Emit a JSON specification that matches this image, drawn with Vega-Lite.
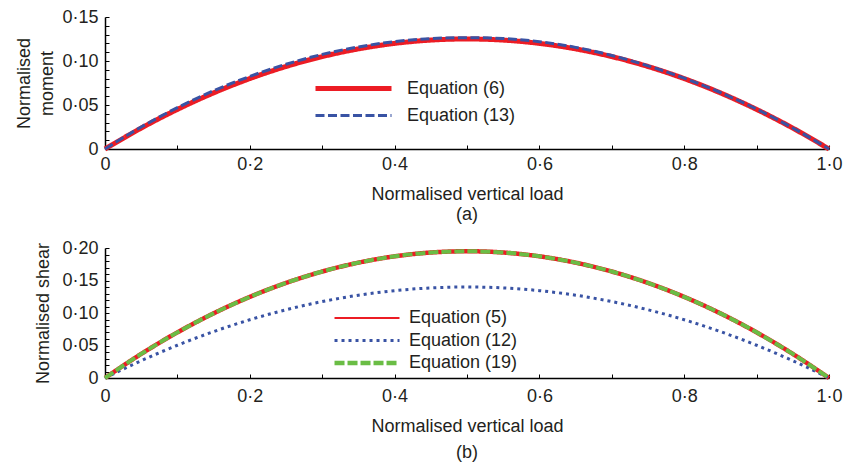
{
  "$schema": "https://vega.github.io/schema/vega-lite/v6.json",
  "background": "white",
  "padding": {"left": 15, "top": 8, "right": 0, "bottom": 0},
  "autosize": {"type": "pad"},
  "resolve": {
    "scale": {"color": "independent", "strokeDash": "independent", "strokeWidth": "independent"},
    "legend": {"color": "independent", "strokeDash": "independent", "strokeWidth": "independent"}
  },
  "config": {
    "font": "Liberation Sans",
    "view": {"stroke": null},
    "axis": {
      "labelFont": "Liberation Sans",
      "titleFont": "Liberation Sans",
      "labelFontSize": 18,
      "titleFontSize": 18,
      "titleFontWeight": "normal",
      "labelColor": "#231f20",
      "titleColor": "#231f20",
      "domainColor": "#000000",
      "domainWidth": 1.5,
      "tickColor": "#000000",
      "tickWidth": 1,
      "tickSize": -4,
      "labelFlush": false,
      "grid": false
    },
    "legend": {
      "orient": "none",
      "labelFont": "Liberation Sans",
      "labelFontSize": 18,
      "labelColor": "#231f20",
      "symbolType": "M-3,0H3",
      "padding": 0
    },
    "title": {"font": "Liberation Sans", "fontSize": 18, "fontWeight": "normal", "color": "#231f20", "orient": "bottom", "anchor": "middle"},
    "concat": {"spacing": 15},
    "line": {"interpolate": "monotone"}
  },
  "datasets": {
    "moment": [
      {"x": 0, "y": 0, "s": "Equation (6)"},
      {"x": 0.05, "y": 0.02375, "s": "Equation (6)"},
      {"x": 0.1, "y": 0.045, "s": "Equation (6)"},
      {"x": 0.15, "y": 0.06375, "s": "Equation (6)"},
      {"x": 0.2, "y": 0.08, "s": "Equation (6)"},
      {"x": 0.25, "y": 0.09375, "s": "Equation (6)"},
      {"x": 0.3, "y": 0.105, "s": "Equation (6)"},
      {"x": 0.35, "y": 0.11375, "s": "Equation (6)"},
      {"x": 0.4, "y": 0.12, "s": "Equation (6)"},
      {"x": 0.45, "y": 0.12375, "s": "Equation (6)"},
      {"x": 0.5, "y": 0.125, "s": "Equation (6)"},
      {"x": 0.55, "y": 0.12375, "s": "Equation (6)"},
      {"x": 0.6, "y": 0.12, "s": "Equation (6)"},
      {"x": 0.65, "y": 0.11375, "s": "Equation (6)"},
      {"x": 0.7, "y": 0.105, "s": "Equation (6)"},
      {"x": 0.75, "y": 0.09375, "s": "Equation (6)"},
      {"x": 0.8, "y": 0.08, "s": "Equation (6)"},
      {"x": 0.85, "y": 0.06375, "s": "Equation (6)"},
      {"x": 0.9, "y": 0.045, "s": "Equation (6)"},
      {"x": 0.95, "y": 0.02375, "s": "Equation (6)"},
      {"x": 1.0, "y": 0, "s": "Equation (6)"},
      {"x": 0, "y": 0, "s": "Equation (13)"},
      {"x": 0.05, "y": 0.025, "s": "Equation (13)"},
      {"x": 0.1, "y": 0.047, "s": "Equation (13)"},
      {"x": 0.15, "y": 0.0662, "s": "Equation (13)"},
      {"x": 0.2, "y": 0.0825, "s": "Equation (13)"},
      {"x": 0.25, "y": 0.0963, "s": "Equation (13)"},
      {"x": 0.3, "y": 0.1075, "s": "Equation (13)"},
      {"x": 0.35, "y": 0.116, "s": "Equation (13)"},
      {"x": 0.4, "y": 0.122, "s": "Equation (13)"},
      {"x": 0.45, "y": 0.1255, "s": "Equation (13)"},
      {"x": 0.5, "y": 0.1265, "s": "Equation (13)"},
      {"x": 0.55, "y": 0.1255, "s": "Equation (13)"},
      {"x": 0.6, "y": 0.122, "s": "Equation (13)"},
      {"x": 0.65, "y": 0.1155, "s": "Equation (13)"},
      {"x": 0.7, "y": 0.1063, "s": "Equation (13)"},
      {"x": 0.75, "y": 0.0945, "s": "Equation (13)"},
      {"x": 0.8, "y": 0.0805, "s": "Equation (13)"},
      {"x": 0.85, "y": 0.0642, "s": "Equation (13)"},
      {"x": 0.9, "y": 0.0453, "s": "Equation (13)"},
      {"x": 0.95, "y": 0.0239, "s": "Equation (13)"},
      {"x": 1.0, "y": 0, "s": "Equation (13)"}
    ],
    "shear": [
      {"x": 0, "y": 0, "s": "Equation (5)"},
      {"x": 0.05, "y": 0.03705, "s": "Equation (5)"},
      {"x": 0.1, "y": 0.0702, "s": "Equation (5)"},
      {"x": 0.15, "y": 0.09945, "s": "Equation (5)"},
      {"x": 0.2, "y": 0.1248, "s": "Equation (5)"},
      {"x": 0.25, "y": 0.14625, "s": "Equation (5)"},
      {"x": 0.3, "y": 0.1638, "s": "Equation (5)"},
      {"x": 0.35, "y": 0.17745, "s": "Equation (5)"},
      {"x": 0.4, "y": 0.1872, "s": "Equation (5)"},
      {"x": 0.45, "y": 0.19305, "s": "Equation (5)"},
      {"x": 0.5, "y": 0.195, "s": "Equation (5)"},
      {"x": 0.55, "y": 0.19305, "s": "Equation (5)"},
      {"x": 0.6, "y": 0.1872, "s": "Equation (5)"},
      {"x": 0.65, "y": 0.17745, "s": "Equation (5)"},
      {"x": 0.7, "y": 0.1638, "s": "Equation (5)"},
      {"x": 0.75, "y": 0.14625, "s": "Equation (5)"},
      {"x": 0.8, "y": 0.1248, "s": "Equation (5)"},
      {"x": 0.85, "y": 0.09945, "s": "Equation (5)"},
      {"x": 0.9, "y": 0.0702, "s": "Equation (5)"},
      {"x": 0.95, "y": 0.03705, "s": "Equation (5)"},
      {"x": 1.0, "y": 0, "s": "Equation (5)"},
      {"x": 0, "y": 0, "s": "Equation (12)"},
      {"x": 0.05, "y": 0.0266, "s": "Equation (12)"},
      {"x": 0.1, "y": 0.0504, "s": "Equation (12)"},
      {"x": 0.15, "y": 0.0714, "s": "Equation (12)"},
      {"x": 0.2, "y": 0.0896, "s": "Equation (12)"},
      {"x": 0.25, "y": 0.105, "s": "Equation (12)"},
      {"x": 0.3, "y": 0.1176, "s": "Equation (12)"},
      {"x": 0.35, "y": 0.1274, "s": "Equation (12)"},
      {"x": 0.4, "y": 0.1344, "s": "Equation (12)"},
      {"x": 0.45, "y": 0.1386, "s": "Equation (12)"},
      {"x": 0.5, "y": 0.14, "s": "Equation (12)"},
      {"x": 0.55, "y": 0.1386, "s": "Equation (12)"},
      {"x": 0.6, "y": 0.1344, "s": "Equation (12)"},
      {"x": 0.65, "y": 0.1274, "s": "Equation (12)"},
      {"x": 0.7, "y": 0.1176, "s": "Equation (12)"},
      {"x": 0.75, "y": 0.105, "s": "Equation (12)"},
      {"x": 0.8, "y": 0.0896, "s": "Equation (12)"},
      {"x": 0.85, "y": 0.0714, "s": "Equation (12)"},
      {"x": 0.9, "y": 0.0504, "s": "Equation (12)"},
      {"x": 0.95, "y": 0.0266, "s": "Equation (12)"},
      {"x": 1.0, "y": 0, "s": "Equation (12)"},
      {"x": 0, "y": 0, "s": "Equation (19)"},
      {"x": 0.05, "y": 0.03705, "s": "Equation (19)"},
      {"x": 0.1, "y": 0.0702, "s": "Equation (19)"},
      {"x": 0.15, "y": 0.09945, "s": "Equation (19)"},
      {"x": 0.2, "y": 0.1248, "s": "Equation (19)"},
      {"x": 0.25, "y": 0.14625, "s": "Equation (19)"},
      {"x": 0.3, "y": 0.1638, "s": "Equation (19)"},
      {"x": 0.35, "y": 0.17745, "s": "Equation (19)"},
      {"x": 0.4, "y": 0.1872, "s": "Equation (19)"},
      {"x": 0.45, "y": 0.19305, "s": "Equation (19)"},
      {"x": 0.5, "y": 0.195, "s": "Equation (19)"},
      {"x": 0.55, "y": 0.19305, "s": "Equation (19)"},
      {"x": 0.6, "y": 0.1872, "s": "Equation (19)"},
      {"x": 0.65, "y": 0.17745, "s": "Equation (19)"},
      {"x": 0.7, "y": 0.1638, "s": "Equation (19)"},
      {"x": 0.75, "y": 0.14625, "s": "Equation (19)"},
      {"x": 0.8, "y": 0.1248, "s": "Equation (19)"},
      {"x": 0.85, "y": 0.09945, "s": "Equation (19)"},
      {"x": 0.9, "y": 0.0702, "s": "Equation (19)"},
      {"x": 0.95, "y": 0.03705, "s": "Equation (19)"},
      {"x": 1.0, "y": 0, "s": "Equation (19)"}
    ]
  },
  "vconcat": [
    {
      "width": 724,
      "height": 132,
      "title": {"text": "(a)", "offset": 3},
      "data": {"name": "moment"},
      "mark": {"type": "line", "interpolate": "monotone"},
      "encoding": {
        "x": {
          "field": "x", "type": "quantitative",
          "scale": {"domain": [0, 1], "nice": false},
          "axis": {
            "title": "Normalised vertical load",
            "values": [0, 0.1, 0.2, 0.3, 0.4, 0.5, 0.6, 0.7, 0.8, 0.9, 1.0],
            "labelExpr": "round(datum.value*10)%2==1 ? '' : (datum.value==0 ? '0' : replace(format(datum.value,'.1f'),'.','·'))",
            "labelPadding": 10,
            "titlePadding": 12
          }
        },
        "y": {
          "field": "y", "type": "quantitative",
          "scale": {"domain": [0, 0.15], "nice": false},
          "axis": {
            "title": ["Normalised", "moment"],
            "titleLineHeight": 23,
            "values": [0, 0.01, 0.02, 0.03, 0.04, 0.05, 0.06, 0.07, 0.08, 0.09, 0.1, 0.11, 0.12, 0.13, 0.14, 0.15],
            "labelExpr": "round(datum.value*100)%5!=0 ? '' : (datum.value==0 ? '0' : replace(format(datum.value,'.2f'),'.','·'))",
            "labelPadding": 11,
            "titlePadding": 5
          }
        },
        "color": {
          "field": "s", "type": "nominal",
          "scale": {"domain": ["Equation (6)", "Equation (13)"], "range": ["#ec1c24", "#3953a4"]},
          "legend": {"title": null, "legendX": 233, "legendY": 56, "symbolSize": 642, "labelOffset": 38, "rowPadding": 2}
        },
        "strokeDash": {
          "field": "s", "type": "nominal",
          "scale": {"domain": ["Equation (6)", "Equation (13)"], "range": [[1, 0], [9, 3.5]]},
          "legend": {"title": null, "legendX": 233, "legendY": 56, "symbolSize": 642, "labelOffset": 38, "rowPadding": 2}
        },
        "strokeWidth": {
          "field": "s", "type": "nominal",
          "scale": {"domain": ["Equation (6)", "Equation (13)"], "range": [5, 3]},
          "legend": {"title": null, "legendX": 233, "legendY": 56, "symbolSize": 642, "labelOffset": 38, "rowPadding": 2}
        },
        "order": {"field": "x", "type": "quantitative"}
      }
    },
    {
      "width": 724,
      "height": 130,
      "title": {"text": "(b)", "offset": 9},
      "data": {"name": "shear"},
      "mark": {"type": "line", "interpolate": "monotone", "strokeWidth": {"expr": "datum.s == 'Equation (5)' ? 4.5 : datum.s == 'Equation (12)' ? 3 : 4"}},
      "encoding": {
        "x": {
          "field": "x", "type": "quantitative",
          "scale": {"domain": [0, 1], "nice": false},
          "axis": {
            "title": "Normalised vertical load",
            "values": [0, 0.1, 0.2, 0.3, 0.4, 0.5, 0.6, 0.7, 0.8, 0.9, 1.0],
            "labelExpr": "round(datum.value*10)%2==1 ? '' : (datum.value==0 ? '0' : replace(format(datum.value,'.1f'),'.','·'))",
            "labelPadding": 13,
            "titlePadding": 12
          }
        },
        "y": {
          "field": "y", "type": "quantitative",
          "scale": {"domain": [0, 0.2], "nice": false},
          "axis": {
            "title": "Normalised shear",
            "values": [0, 0.01, 0.02, 0.03, 0.04, 0.05, 0.06, 0.07, 0.08, 0.09, 0.1, 0.11, 0.12, 0.13, 0.14, 0.15, 0.16, 0.17, 0.18, 0.19, 0.2],
            "labelExpr": "round(datum.value*100)%5!=0 ? '' : (datum.value==0 ? '0' : replace(format(datum.value,'.2f'),'.','·'))",
            "labelPadding": 11,
            "titlePadding": 9
          }
        },
        "color": {
          "field": "s", "type": "nominal",
          "scale": {"domain": ["Equation (5)", "Equation (12)", "Equation (19)"], "range": ["#ec1c24", "#3953a4", "#6abd45"]},
          "legend": {"title": null, "legendX": 253, "legendY": 61, "symbolSize": 469, "labelOffset": 33, "rowPadding": 4.5,
            "encode": {"symbols": {"update": {"strokeWidth": {"signal": "datum.value == 'Equation (5)' ? 2 : datum.value == 'Equation (12)' ? 3 : 4.5"}}}}}
        },
        "strokeDash": {
          "field": "s", "type": "nominal",
          "scale": {"domain": ["Equation (5)", "Equation (12)", "Equation (19)"], "range": [[1, 0], [3, 4], [10, 3]]},
          "legend": {"title": null, "legendX": 253, "legendY": 61, "symbolSize": 469, "labelOffset": 33, "rowPadding": 4.5,
            "encode": {"symbols": {"update": {"strokeWidth": {"signal": "datum.value == 'Equation (5)' ? 2 : datum.value == 'Equation (12)' ? 3 : 4.5"}}}}}
        },
        "order": {"field": "x", "type": "quantitative"}
      }
    }
  ]
}
